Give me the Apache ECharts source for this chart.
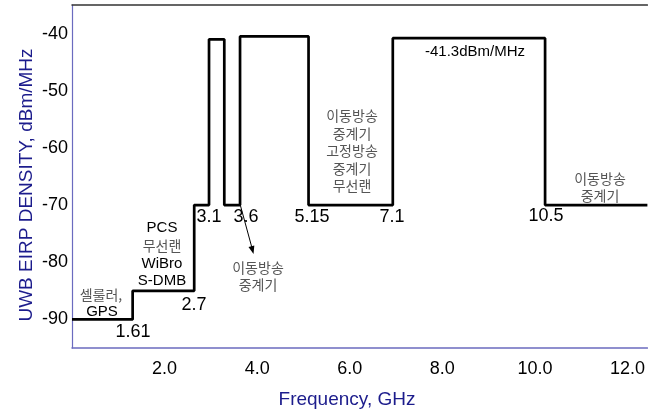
<!DOCTYPE html>
<html>
<head>
<meta charset="utf-8">
<script src="https://cdn.jsdelivr.net/npm/echarts@6/dist/echarts.min.js"></script>
<style>
html,body{margin:0;padding:0;background:#fff;}
#chart{width:648px;height:412px;}
</style>
</head>
<body>
<div id="chart"></div>
<script>
// Step edges (GHz) and EIRP density levels (dBm/MHz)
var freqEdges = [0, 1.31, 2.64, 2.96, 3.29, 3.63, 5.11, 6.93, 10.22, 12.43];
var levels    = [-90, -85, -70, -41, -70, -40.5, -70, -40.8, -70, -70];
var xTicks = [2.0, 4.0, 6.0, 8.0, 10.0, 12.0];
var yTicks = [-40, -50, -60, -70, -80, -90];
var edgeLabels = ['1.61', '2.7', '3.1', '3.6', '5.15', '7.1', '10.5'];
var xTitle = 'Frequency, GHz';
var yTitle = 'UWB EIRP DENSITY, dBm/MHz';

var data = freqEdges.map(function (f, i) { return [f, levels[i]]; });

var chart = echarts.init(document.getElementById('chart'), null, {renderer: 'canvas'});
var LAT = '"Liberation Sans", Arial, sans-serif';
var KR = '"Noto Sans CJK KR", sans-serif';
var gray = '#555555';

function txt(s, x, y, font, color, lh) {
  return {
    type: 'text', x: x, y: y, silent: true,
    style: { text: s, x: 0, y: 0, font: font, fill: color, textAlign: 'center', textVerticalAlign: 'middle', lineHeight: lh || 18 }
  };
}
var numFont = '18px ' + LAT;
var enFont = '15px ' + LAT;
var krFont = '14px ' + KR;

var graphics = [
  txt(edgeLabels[0], 133, 332, numFont, '#000'),
  txt(edgeLabels[1], 194, 305, numFont, '#000'),
  txt(edgeLabels[2], 209, 217, numFont, '#000'),
  txt(edgeLabels[3], 246, 217, numFont, '#000'),
  txt(edgeLabels[4], 312, 217, numFont, '#000'),
  txt(edgeLabels[5], 392, 217, numFont, '#000'),
  txt(edgeLabels[6], 546, 216, numFont, '#000'),
  txt('셀룰러,', 101, 295, krFont, gray),
  txt('GPS', 102, 312, enFont, '#000'),
  txt('PCS', 162, 228, enFont, '#000'),
  txt('무선랜', 162, 246, krFont, gray),
  txt('WiBro', 162, 264, enFont, '#000'),
  txt('S-DMB', 162, 281, enFont, '#000'),
  txt('이동방송\n중계기\n고정방송\n중계기\n무선랜', 352, 151, krFont, gray, 17.5),
  txt('-41.3dBm/MHz', 475, 52, enFont, '#000'),
  txt('이동방송\n중계기', 600, 187.5, krFont, gray, 17),
  txt('이동방송\n중계기', 258, 276.5, krFont, gray, 17),
  txt(xTitle, 347, 400, '19px ' + LAT, '#1c1c8c'),
  {
    type: 'text', x: 27, y: 185, rotation: Math.PI / 2, silent: true,
    style: { text: yTitle, x: 0, y: 0, font: '19px ' + LAT, fill: '#1c1c8c', textAlign: 'center', textVerticalAlign: 'middle' }
  },
  { type: 'line', silent: true, shape: { x1: 240, y1: 204, x2: 252, y2: 248 }, style: { stroke: '#000', lineWidth: 1 } },
  { type: 'polygon', silent: true, shape: { points: [[253.5, 254], [248.5, 247.1], [254.3, 245.5]] }, style: { fill: '#000' } }
];

var option = {
  animation: false,
  backgroundColor: '#fff',
  grid: { left: 72, right: 0, top: 5, bottom: 64, containLabel: false },
  xAxis: [{
    type: 'value', min: 0, max: 12.43, interval: 2,
    axisLine: { show: true, onZero: false, lineStyle: { color: '#6b6bbf', width: 1.5 } },
    axisTick: { show: false },
    splitLine: { show: false },
    axisLabel: {
      margin: 12, color: '#000', fontSize: 18, fontFamily: LAT,
      showMinLabel: false, showMaxLabel: false,
      formatter: function (v) { return xTicks.indexOf(v) >= 0 ? v.toFixed(1) : ''; }
    }
  }, {
    type: 'value', position: 'top', min: 0, max: 12.43,
    axisLine: { show: true, onZero: false, lineStyle: { color: '#333', width: 1.5 } },
    axisTick: { show: false }, axisLabel: { show: false }, splitLine: { show: false }
  }],
  yAxis: {
    type: 'value', min: -95, max: -35, interval: 5,
    axisLine: { show: true, onZero: false, lineStyle: { color: '#6b6bbf', width: 1.2 } },
    axisTick: { show: false },
    splitLine: { show: false },
    axisLabel: {
      margin: 4, color: '#000', fontSize: 18, fontFamily: LAT,
      formatter: function (v) { return yTicks.indexOf(v) >= 0 ? String(v) : ''; }
    }
  },
  series: [{
    type: 'line', step: 'end', data: data, symbol: 'none', clip: false,
    lineStyle: { color: '#000', width: 2.7 }
  }],
  graphic: graphics
};
chart.setOption(option);
</script>
</body>
</html>
